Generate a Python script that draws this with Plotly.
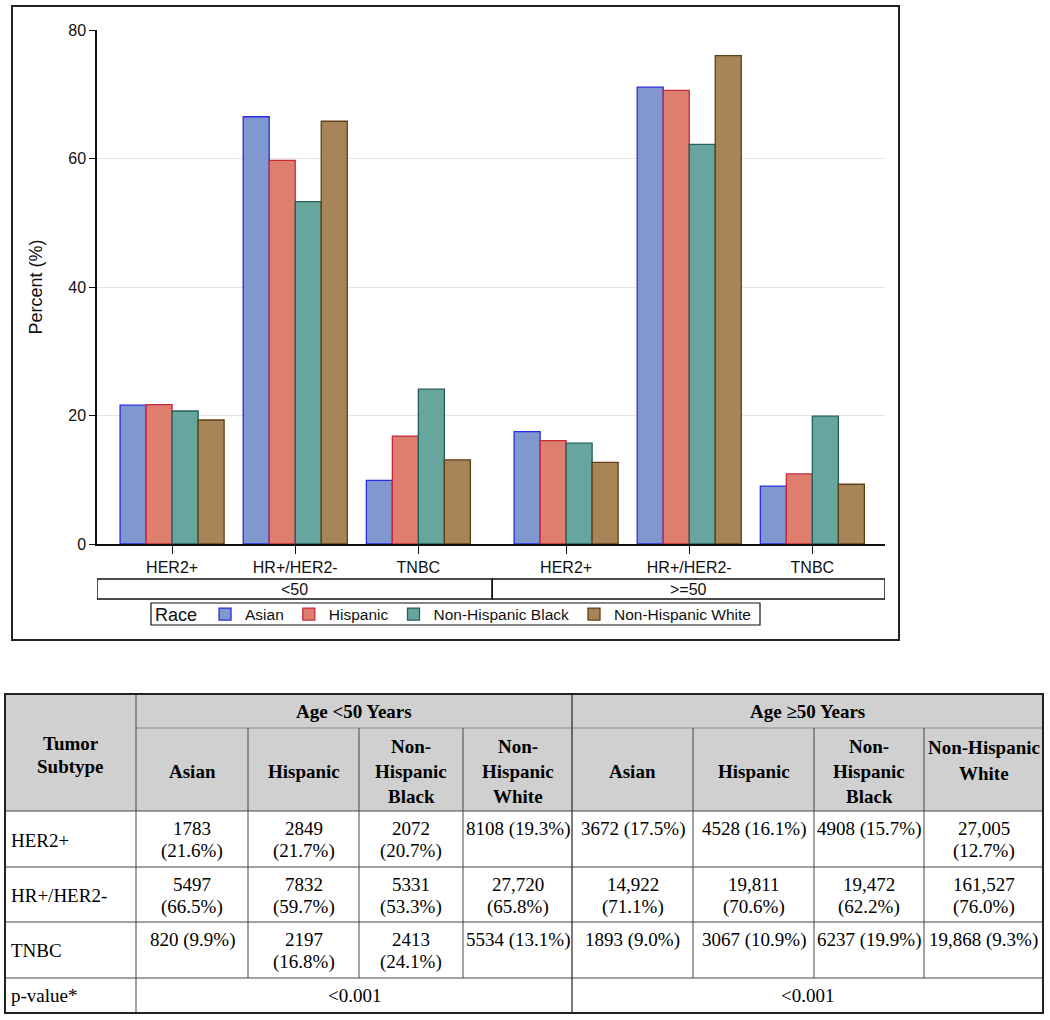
import plotly.graph_objects as go

# ---------------- data ----------------
subtypes = ["HER2+", "HR+/HER2-", "TNBC"]
age_groups = ["<50", ">=50"]
races = ["Asian", "Hispanic", "Non-Hispanic Black", "Non-Hispanic White"]

# percent by subtype (HER2+, HR+/HER2-, TNBC)
asian_lt50 = [21.6, 66.5, 9.9]
hispanic_lt50 = [21.7, 59.7, 16.8]
black_lt50 = [20.7, 53.3, 24.1]
white_lt50 = [19.3, 65.8, 13.1]
asian_ge50 = [17.5, 71.1, 9.0]
hispanic_ge50 = [16.1, 70.6, 10.9]
black_ge50 = [15.7, 62.2, 19.9]
white_ge50 = [12.7, 76.0, 9.3]

# counts by subtype (as printed in the table)
n_asian_lt50 = ["1783", "5497", "820"]
n_hispanic_lt50 = ["2849", "7832", "2197"]
n_black_lt50 = ["2072", "5331", "2413"]
n_white_lt50 = ["8108", "27,720", "5534"]
n_asian_ge50 = ["3672", "14,922", "1893"]
n_hispanic_ge50 = ["4528", "19,811", "3067"]
n_black_ge50 = ["4908", "19,472", "6237"]
n_white_ge50 = ["27,005", "161,527", "19,868"]

p_values = ["<0.001", "<0.001"]

table_group_headers = ["Age <50 Years", "Age \u226550 Years"]
table_first_header = ["Tumor", "Subtype"]
table_race_headers = [["Asian"], ["Hispanic"], ["Non-", "Hispanic", "Black"], ["Non-", "Hispanic", "White"],
                      ["Asian"], ["Hispanic"], ["Non-", "Hispanic", "Black"], ["Non-Hispanic", "White"]]
table_row_labels = subtypes + ["p-value*"]

# ---------------- styles ----------------
fill_colors = ["#7F98CD", "#DE7E6F", "#67A69F", "#A88559"]
line_colors = ["#2B2BE0", "#C8283A", "#235F59", "#5E3F17"]
SANS = "Liberation Sans, Arial, sans-serif"
SERIF = "Liberation Serif, Times New Roman, serif"

W, H = 1050, 1020
L, R, T, B = 97, 885, 30, 544


def xp(px):
    return (px - L) / (R - L)


def yp(py):
    return (B - py) / (B - T)


group_gap = 0.2
positions = [g * (len(subtypes) + group_gap) + i for g in range(len(age_groups)) for i in range(len(subtypes))]
x_range = [-0.61, positions[-1] + 0.59]
mid = (positions[len(subtypes) - 1] + positions[len(subtypes)]) / 2

series = [
    asian_lt50 + asian_ge50,
    hispanic_lt50 + hispanic_ge50,
    black_lt50 + black_ge50,
    white_lt50 + white_ge50,
]

fig = go.Figure()
for k, race in enumerate(races):
    fig.add_trace(go.Bar(
        x=positions, y=series[k], name=race,
        marker=dict(color=fill_colors[k], line=dict(color=line_colors[k], width=1.3)),
    ))

shapes = []
annotations = []

# chart frame
shapes.append(dict(type="rect", xref="paper", yref="paper", x0=xp(12), x1=xp(899), y0=yp(640), y1=yp(6),
                   line=dict(color="#222222", width=2), fillcolor="rgba(0,0,0,0)"))

# legend frame
shapes.append(dict(type="rect", xref="paper", yref="paper", x0=xp(151), x1=xp(760), y0=yp(625), y1=yp(603),
                   line=dict(color="#111111", width=1.2), fillcolor="rgba(0,0,0,0)"))

# age group boxes
for g, lab in enumerate(age_groups):
    x0 = x_range[0] if g == 0 else mid
    x1 = mid if g == 0 else x_range[1]
    shapes.append(dict(type="rect", xref="x", yref="paper", x0=x0, x1=x1, y0=yp(599), y1=yp(579),
                       line=dict(color="#111111", width=1.5)))
    annotations.append(dict(text=lab, xref="x", yref="paper", x=(x0 + x1) / 2, y=yp(589.5),
                            xanchor="center", yanchor="middle",
                            showarrow=False, font=dict(family=SANS, size=16, color="#111")))

# ---------------- table ----------------
col_x = [5, 136, 248, 359, 463, 572, 693, 814, 924, 1043]
row_y = [694, 728, 811, 867, 922, 978, 1013]


def rect(x0, x1, y0, y1, fill=None, lc="#333333", lw=1):
    d = dict(type="rect", xref="paper", yref="paper", x0=xp(x0), x1=xp(x1), y0=yp(y1), y1=yp(y0),
             line=dict(color=lc, width=lw))
    if fill:
        d["fillcolor"] = fill
        d["line"] = dict(width=0)
    return d


def hline(x0, x1, y, lc="#444444", lw=1):
    return dict(type="line", xref="paper", yref="paper", x0=xp(x0), x1=xp(x1), y0=yp(y), y1=yp(y),
                line=dict(color=lc, width=lw))


def vline(x, y0, y1, lc="#444444", lw=1):
    return dict(type="line", xref="paper", yref="paper", x0=xp(x), x1=xp(x), y0=yp(y0), y1=yp(y1),
                line=dict(color=lc, width=lw))


shapes.append(rect(col_x[0], col_x[-1], row_y[0], row_y[2], fill="#D0D0D0"))
shapes.append(hline(col_x[1], col_x[-1], row_y[1], lc="#888888"))
for y in row_y[2:-1]:
    shapes.append(hline(col_x[0], col_x[-1], y))
shapes.append(vline(col_x[1], row_y[0], row_y[-1]))
shapes.append(vline(col_x[5], row_y[0], row_y[-1], lc="#333333", lw=1.3))
for c in [2, 3, 4, 6, 7, 8]:
    shapes.append(vline(col_x[c], row_y[1], row_y[5]))
shapes.append(rect(col_x[0], col_x[-1], row_y[0], row_y[-1], lc="#222222", lw=2))


def cell_text(text, cx, cy, size=19, bold=False, xanchor="center"):
    if bold:
        text = "<b>" + text + "</b>"
    annotations.append(dict(text=text, xref="paper", yref="paper", x=xp(cx), y=yp(cy),
                            xanchor=xanchor, yanchor="middle", showarrow=False,
                            font=dict(family=SERIF, size=size, color="#000")))


def cell_lines(lines, cx, centers, size=19, bold=False, xanchor="center"):
    for ln, cy in zip(lines, centers):
        cell_text(ln, cx, cy, size=size, bold=bold, xanchor=xanchor)


# headers
cell_lines(table_first_header, (col_x[0] + col_x[1]) / 2, [743, 766], bold=True)
cell_text(table_group_headers[0], (col_x[1] + col_x[5]) / 2, 711, bold=True)
cell_text(table_group_headers[1], (col_x[5] + col_x[9]) / 2, 711, bold=True)
header_centers = {1: [771], 2: [747, 773], 3: [746, 771, 796]}
for j, lines in enumerate(table_race_headers):
    cell_lines(lines, (col_x[j + 1] + col_x[j + 2]) / 2, header_centers[len(lines)], bold=True)

# body cells
counts = [n_asian_lt50, n_hispanic_lt50, n_black_lt50, n_white_lt50,
          n_asian_ge50, n_hispanic_ge50, n_black_ge50, n_white_ge50]
pcts = [asian_lt50, hispanic_lt50, black_lt50, white_lt50,
        asian_ge50, hispanic_ge50, black_ge50, white_ge50]
# whether the cell text wraps onto two lines (as in the reference table)
wrap = [
    [True, True, True, False, False, False, False, True],
    [True, True, True, True, True, True, True, True],
    [False, True, True, False, False, False, False, False],
]
for i in range(len(subtypes)):
    top = row_y[2 + i]
    bot = row_y[3 + i]
    cell_text(table_row_labels[i], 9, (top + bot) / 2 + 1, xanchor="left")
    for j in range(8):
        cx = (col_x[j + 1] + col_x[j + 2]) / 2
        n, p = counts[j][i], f"({pcts[j][i]:.1f}%)"
        if wrap[i][j]:
            cell_lines([n, p], cx, [top + 17.5, top + 39.5])
        else:
            cell_text(f"{n} {p}", cx, top + 17.5)

# p-value row
pt, pb = row_y[5], row_y[6]
cell_text(table_row_labels[3], 9, (pt + pb) / 2, xanchor="left")
cell_text(p_values[0], (col_x[1] + col_x[5]) / 2, (pt + pb) / 2)
cell_text(p_values[1], (col_x[5] + col_x[9]) / 2, (pt + pb) / 2)

fig.update_layout(
    width=W, height=H,
    margin=dict(l=L, r=W - R, t=T, b=H - B, pad=0),
    paper_bgcolor="white", plot_bgcolor="white",
    barmode="group", bargap=0.155, bargroupgap=0,
    font=dict(family=SANS, size=16, color="#111"),
    xaxis=dict(range=x_range, tickmode="array", tickvals=positions, ticktext=subtypes * len(age_groups),
               showgrid=False, zeroline=False, showline=True, linecolor="#111", linewidth=1.5,
               ticks="outside", ticklen=8, tickcolor="#111", tickwidth=1.3,
               tickfont=dict(family=SANS, size=16, color="#111")),
    yaxis=dict(range=[0, 80], tickmode="array", tickvals=[0, 20, 40, 60, 80],
               showgrid=True, gridcolor="#E4E4E4", gridwidth=1, zeroline=False,
               showline=True, linecolor="#111", linewidth=1.5,
               ticks="outside", ticklen=6, tickcolor="#111", tickwidth=1.3,
               tickfont=dict(family=SANS, size=16, color="#111")),
    legend=dict(orientation="h", x=xp(153), y=yp(597.5), xanchor="left", yanchor="top",
                bgcolor="rgba(255,255,255,0)", borderwidth=0,
                font=dict(family=SANS, size=15.5, color="#111"),
                title=dict(text="Race", side="left", font=dict(family=SANS, size=18, color="#111")),
                itemwidth=30, tracegroupgap=0),
    shapes=shapes, annotations=annotations,
    showlegend=True,
)
fig.update_yaxes(title=dict(text="Percent (%)", font=dict(family=SANS, size=18, color="#111"), standoff=21))

fig.write_html("out.html", config={"displayModeBar": False},
               post_script="document.body.style.margin='0px';")
